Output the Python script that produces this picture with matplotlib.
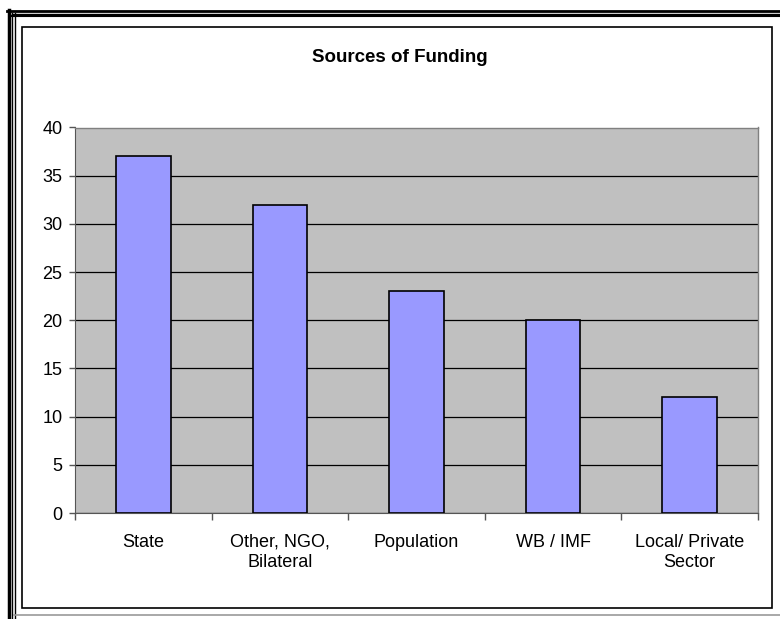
import matplotlib.pyplot as plt
from matplotlib.lines import Line2D
from matplotlib.patches import Rectangle

# values
categories = ['State', 'Other, NGO,\nBilateral', 'Population', 'WB / IMF', 'Local/ Private\nSector']
values = [37, 32, 23, 20, 12]
yticks = [0, 5, 10, 15, 20, 25, 30, 35, 40]

plt.rcParams['font.family'] = ['Liberation Sans', 'DejaVu Sans']

W, H = 780, 619
fig = plt.figure(figsize=(W / 100, H / 100), dpi=100)

def fx(px):
    return px / W

def fy(py):
    return 1 - py / H

# outer frame (triple line, cropped at right/bottom like the original)
for x, lw in [(8.5, 2.5), (12.5, 1.0), (14.8, 1.0)]:
    fig.add_artist(Line2D([fx(x), fx(x)], [fy(y) for y in (9.5 if lw > 2 else 13, H)],
                          color='black', lw=lw, transform=fig.transFigure))
for y, lw in [(10.5, 2.0), (13.5, 1.0), (16.0, 1.5)]:
    fig.add_artist(Line2D([fx(7 if lw > 1.5 else 12), 1], [fy(y), fy(y)],
                          color='black', lw=lw, transform=fig.transFigure))
fig.add_artist(Line2D([fx(14), 1], [fy(615), fy(615)], color='#9a9a9a', lw=1.2,
                      transform=fig.transFigure))

# inner chart box
fig.add_artist(Rectangle((fx(22), fy(608)), fx(772) - fx(22), fy(27) - fy(608),
                         fill=False, edgecolor='black', lw=1.2, transform=fig.transFigure))

ax = fig.add_axes([fx(75), fy(513), fx(758) - fx(75), fy(127.5) - fy(513)])
ax.set_facecolor('#c0c0c0')

x = range(len(categories))
ax.bar(x, values, width=0.4, color='#9999ff', edgecolor='black', linewidth=1.2, zorder=3)

ax.set_xlim(-0.5, len(categories) - 0.5)
ax.set_ylim(0, 40)
ax.set_yticks(yticks)
ax.yaxis.grid(True, color='black', linewidth=0.9, zorder=1)
ax.set_axisbelow(True)

# category labels centred, ticks at the boundaries
ax.set_xticks(list(x))
ax.set_xticklabels(categories, fontsize=13, linespacing=1.25)
ax.tick_params(axis='x', which='major', length=0, pad=15)
ax.set_xticks([i - 0.5 for i in range(len(categories) + 1)], minor=True)
ax.tick_params(axis='x', which='minor', length=5, width=1, color='#555555', direction='out')
ax.tick_params(axis='y', length=4, width=1, color='#555555', labelsize=13, pad=5)

for side in ['top', 'right']:
    ax.spines[side].set_color('#808080')
    ax.spines[side].set_linewidth(1.0)
ax.spines['left'].set_color('#555555')
ax.spines['bottom'].set_color('#555555')

fig.text(fx(400), fy(57), 'Sources of Funding', ha='center', va='center',
         fontsize=13.5, fontweight='bold')

fig.savefig('out.png', dpi=100)
